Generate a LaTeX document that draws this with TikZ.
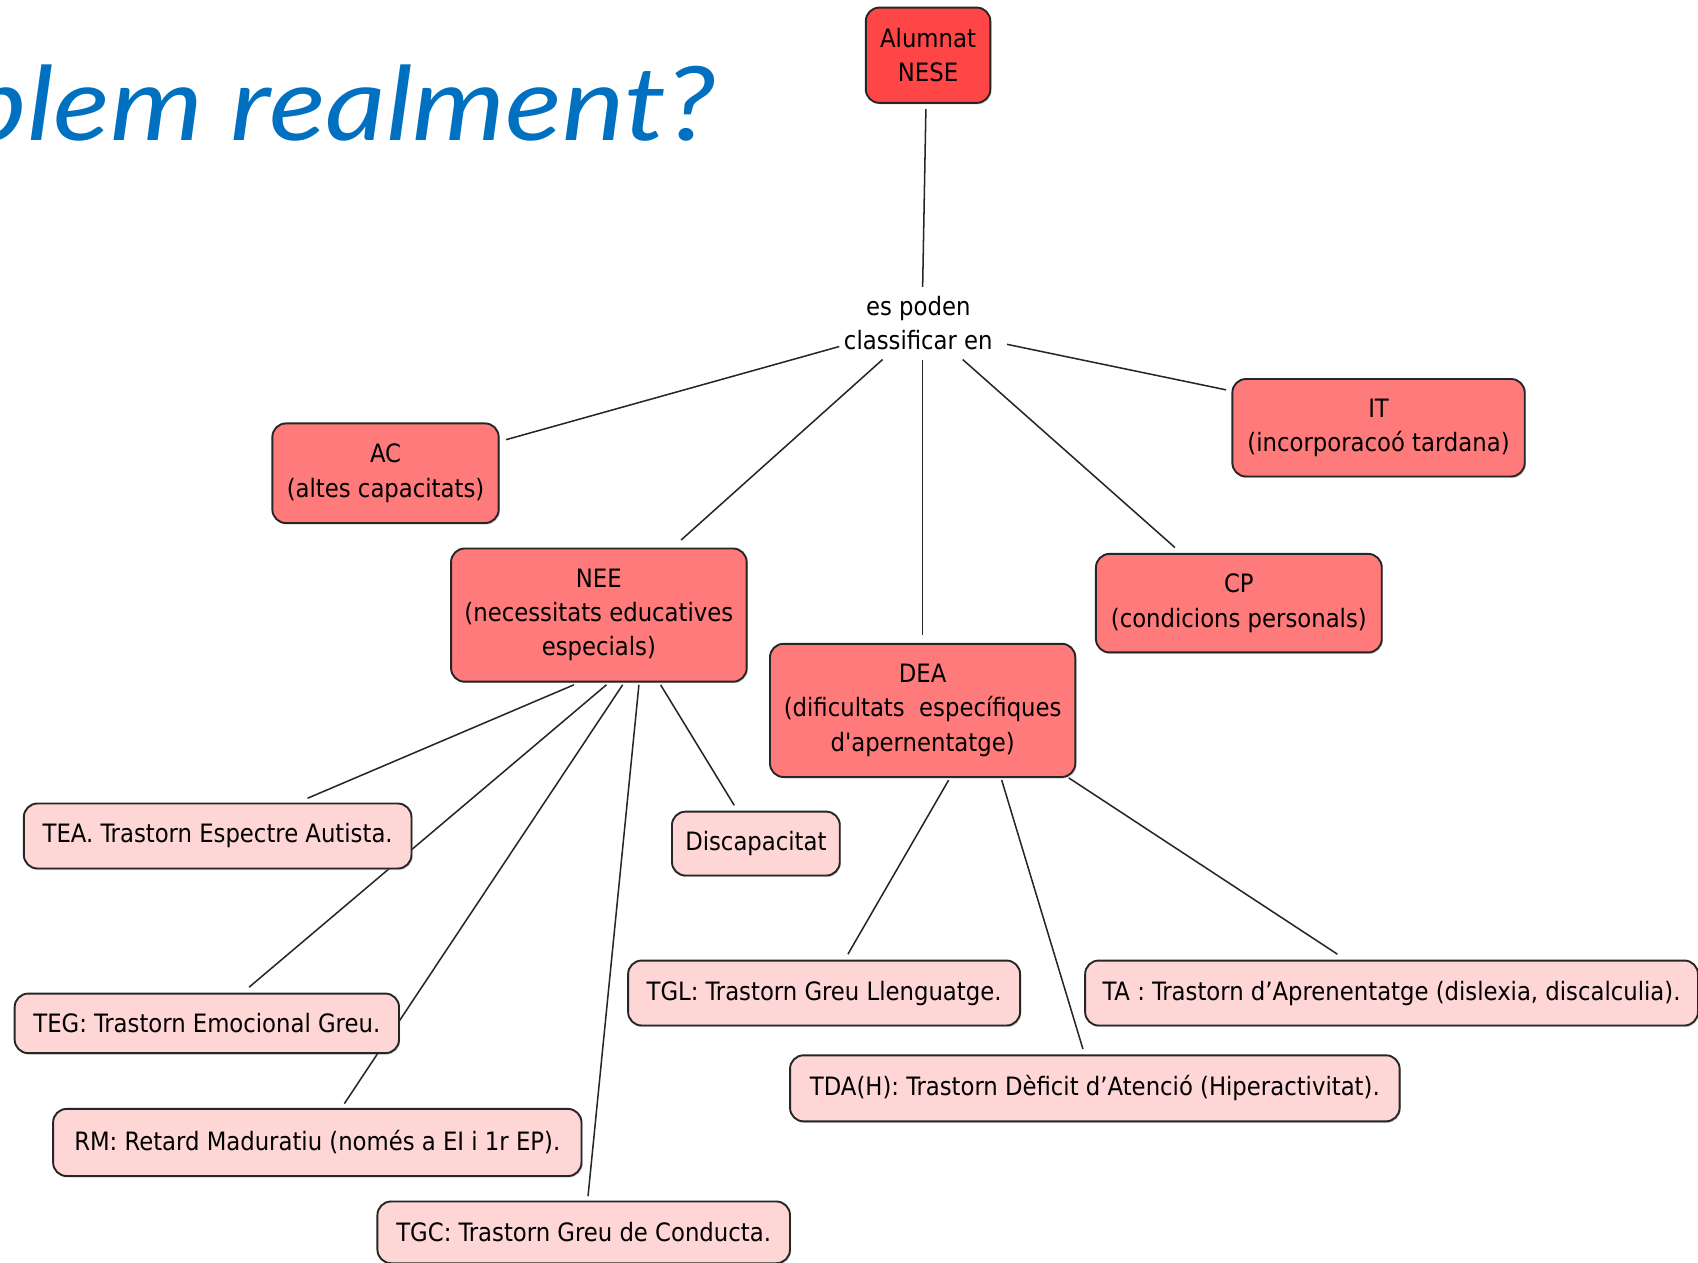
\documentclass[tikz,border=0pt]{standalone}
\usepackage{fontspec}
\setmainfont{DejaVu Sans Condensed}
\newfontfamily\titlefont{Lato}[FakeStretch=1.15]
\usepackage{tikz}
\usetikzlibrary{calc, backgrounds, shadows}
\definecolor{rojazo}{RGB}{255,70,70}
\definecolor{rojito}{RGB}{255,122,122}
\definecolor{rosita}{RGB}{255,214,214}
\definecolor{azulcito}{RGB}{0,112,192}
\tikzset{
  concepte/.style={draw=black!85, line width=1pt, rounded corners=0.25cm, align=center,
    font=\fontsize{13.3}{18}\selectfont, inner sep=2pt,
    drop shadow={shadow xshift=0.6pt, shadow yshift=-0.8pt, opacity=0.35}},
  principal/.style={concepte, fill=rojito},
  subtipus/.style={concepte, fill=rosita},
  enllac/.style={line width=0.8pt, black!85},
}

\begin{document}
\begin{tikzpicture}[x=0.02cm, y=-0.02cm]
  \useasboundingbox (0,0) rectangle (1568,1166);

  \node[azulcito, anchor=base west, inner sep=0pt, font=\titlefont\itshape\fontsize{54}{60}\selectfont] (title) at (-33,130) {blem realment?};

  \node[principal, fill=rojazo, minimum width=2.3cm, minimum height=1.76cm] (nese) at (857,51) {Alumnat\\NESE};
  \node[align=center, font=\fontsize{13.3}{18}\selectfont] (classif) at (848,298) {es poden\\classificar en};

  \node[principal, minimum width=4.18cm, minimum height=1.84cm] (ac) at (356,437) {AC\\(altes capacitats)};
  \node[principal, minimum width=5.4cm, minimum height=1.8cm] (it) at (1273,395) {IT\\(incorporacoó tardana)};
  \node[principal, minimum width=5.46cm, minimum height=2.46cm] (nee) at (553,568) {NEE\\(necessitats educatives\\especials)};
  \node[principal, minimum width=5.64cm, minimum height=2.46cm] (dea) at (852,656) {DEA\\(dificultats~ específiques\\d\textquotesingle apernentatge)};
  \node[principal, minimum width=5.28cm, minimum height=1.82cm] (cp) at (1144,557) {CP\\(condicions personals)};

  \node[subtipus, minimum width=7.16cm, minimum height=1.2cm] (tea) at (201,772) {TEA. Trastorn Espectre Autista.};
  \node[subtipus, minimum width=3.1cm, minimum height=1.18cm] (disc) at (698,779) {Discapacitat};
  \node[subtipus, minimum width=7.1cm, minimum height=1.1cm] (teg) at (191,945) {TEG: Trastorn Emocional Greu.};
  \node[subtipus, minimum width=9.76cm, minimum height=1.24cm] (rm) at (293,1055) {RM: Retard Maduratiu (només a EI i 1r EP).};
  \node[subtipus, minimum width=7.62cm, minimum height=1.14cm] (tgc) at (539,1138) {TGC: Trastorn Greu de Conducta.};
  \node[subtipus, minimum width=7.24cm, minimum height=1.2cm] (tgl) at (761,917) {TGL: Trastorn Greu Llenguatge.};
  \node[subtipus, minimum width=11.32cm, minimum height=1.2cm] (ta) at (1285,917) {TA : Trastorn d’Aprenentatge (dislexia, discalculia).};
  \node[subtipus, minimum width=11.26cm, minimum height=1.22cm] (tdah) at (1011,1005) {TDA(H): Trastorn Dèficit d’Atenció (Hiperactivitat).};

  \begin{scope}[on background layer]
    \fill[white] (0,0) rectangle (1568,1166);
    \draw[enllac] ($(nese.south)+(-2,5)$) -- ($(classif)+(4,-33)$);
    % classificar en
    \draw[enllac] ($(classif)+(-73,22)$) -- ($(ac.east)+(6,-31)$);
    \draw[enllac] ($(classif)+(-33,34)$) -- ($(nee.north)+(76,-7)$);
    \draw[enllac] ($(classif)+(4,34)$) -- ($(dea.north)+(0,-7)$);
    \draw[enllac] ($(classif)+(41,34)$) -- ($(cp.north)+(-59,-5)$);
    \draw[enllac] ($(classif)+(82,20)$) -- ($(it.west)+(-5,-35)$);
    % NEE
    \draw[enllac] ($(nee.south)+(-23,2)$) -- ($(tea.north)+(83,-4)$);
    \draw[enllac] ($(nee.south)+(7,2)$) -- ($(teg.north)+(39,-5)$);
    \draw[enllac] ($(nee.south)+(22,2)$) -- ($(rm.north)+(25,-4)$);
    \draw[enllac] ($(nee.south)+(37,2)$) -- ($(tgc.north)+(4,-4)$);
    \draw[enllac] ($(nee.south)+(57,2)$) -- ($(disc.north)+(-20,-5)$);
    % DEA
    \draw[enllac] ($(dea.south)+(24,2)$) -- ($(tgl.north)+(22,-5)$);
    \draw[enllac] ($(dea.south)+(73,2)$) -- ($(tdah.north)+(-11,-5)$);
    \draw[enllac] ($(dea.south)+(135,0)$) -- ($(ta.north)+(-50,-5)$);
  \end{scope}
\end{tikzpicture}
\end{document}
